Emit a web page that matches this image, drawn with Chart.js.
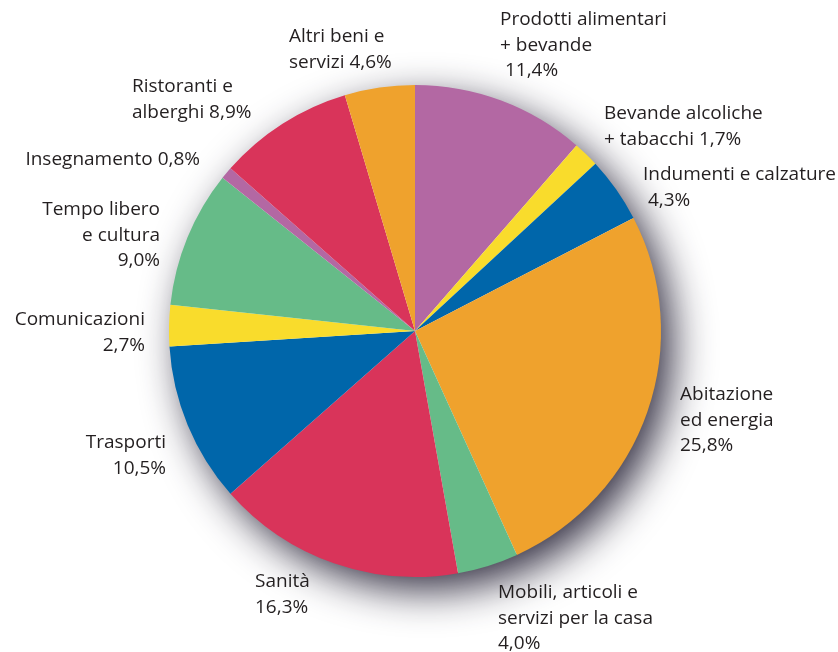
<!DOCTYPE html>
<html>
<head>
<meta charset="utf-8">
<script src="https://cdn.jsdelivr.net/npm/chart.js@4/dist/chart.umd.min.js"></script>
<style>
  html, body { margin: 0; padding: 0; background: #fff; }
  #wrap { width: 838px; height: 652px; }
</style>
</head>
<body>
<div id="wrap"><canvas id="pie" width="838" height="652"></canvas></div>
<script>
// spesa delle famiglie, quote percentuali (in senso orario da ore 12)
const categories = [
  'Prodotti alimentari + bevande',
  'Bevande alcoliche + tabacchi',
  'Indumenti e calzature',
  'Abitazione ed energia',
  'Mobili, articoli e servizi per la casa',
  'Sanità',
  'Trasporti',
  'Comunicazioni',
  'Tempo libero e cultura',
  'Insegnamento',
  'Ristoranti e alberghi',
  'Altri beni e servizi'
];
const shares = [11.4, 1.7, 4.3, 25.8, 4.0, 16.3, 10.5, 2.7, 9.0, 0.8, 8.9, 4.6];
const labelLines = [
  ['Prodotti alimentari', '+ bevande', ' 11,4%'],
  ['Bevande alcoliche', '+ tabacchi 1,7%'],
  ['Indumenti e calzature', ' 4,3%'],
  ['Abitazione', 'ed energia', '25,8%'],
  ['Mobili, articoli e', 'servizi per la casa', '4,0%'],
  ['Sanità', '16,3%'],
  ['Trasporti', '10,5%'],
  ['Comunicazioni', '2,7%'],
  ['Tempo libero', 'e cultura', '9,0%'],
  ['Insegnamento 0,8%'],
  ['Ristoranti e', 'alberghi 8,9%'],
  ['Altri beni e', 'servizi 4,6%']
];

const colors = ['#b368a3', '#f9dc2c', '#0066aa', '#efa22d', '#66bb88', '#d9345a',
                '#0066aa', '#f9dc2c', '#66bb88', '#b368a3', '#d9345a', '#efa22d'];

// label placement: x, y of the first line's middle, alignment
const labelPos = [
  [500, 20, 'left'], [604, 114, 'left'], [643, 175, 'left'], [680, 395, 'left'],
  [498, 593, 'left'], [255, 582, 'left'], [166, 443, 'right'], [145, 320, 'right'],
  [160, 210, 'right'], [200, 160, 'right'], [132, 87, 'left'], [289, 37, 'left']
];
const lineH = 25.5;

const shadowPlugin = {
  id: 'pieShadow',
  beforeDatasetsDraw(chart) {
    const arc = chart.getDatasetMeta(0).data[0];
    if (!arc) return;
    const ctx = chart.ctx;
    ctx.save();
    ctx.shadowColor = 'rgba(40, 36, 56, 0.95)';
    ctx.shadowBlur = 40;
    ctx.shadowOffsetX = 12;
    ctx.shadowOffsetY = 14;
    ctx.fillStyle = '#ffffff';
    ctx.beginPath();
    ctx.arc(arc.x, arc.y, arc.outerRadius - 1, 0, Math.PI * 2);
    ctx.fill();
    ctx.restore();
  }
};

const labelPlugin = {
  id: 'sliceLabels',
  afterDatasetsDraw(chart) {
    const ctx = chart.ctx;
    ctx.save();
    ctx.font = '19px "Open Sans", sans-serif';
    ctx.fillStyle = '#231f20';
    ctx.textBaseline = 'middle';
    labelLines.forEach((lines, i) => {
      const [x, y, align] = labelPos[i];
      ctx.textAlign = align;
      lines.forEach((t, k) => ctx.fillText(t, x, y + k * lineH));
    });
    ctx.restore();
  }
};

new Chart(document.getElementById('pie'), {
  type: 'pie',
  data: {
    labels: categories,
    datasets: [{
      data: shares,
      backgroundColor: colors,
      borderWidth: 0
    }]
  },
  options: {
    responsive: false,
    animation: false,
    layout: { padding: { left: 169, right: 177, top: 85, bottom: 75 } },
    plugins: {
      legend: { display: false },
      tooltip: { enabled: false }
    }
  },
  plugins: [shadowPlugin, labelPlugin]
});
</script>
</body>
</html>
